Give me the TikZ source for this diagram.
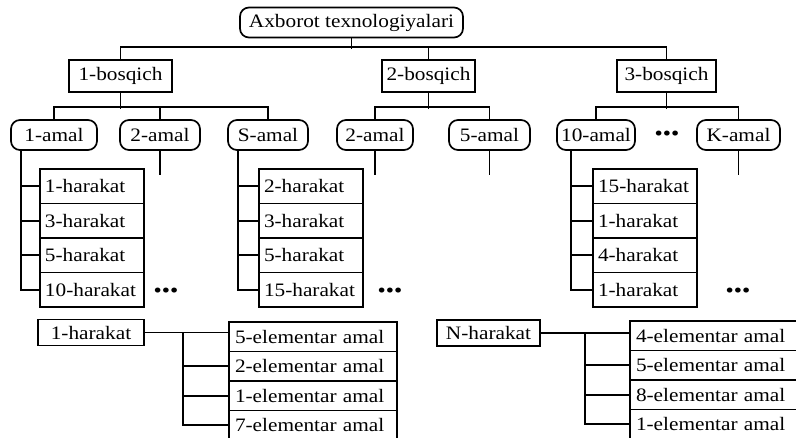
\documentclass[tikz,border=0pt]{standalone}
\usepackage{fontspec}
\setmainfont{Liberation Serif}[FakeStretch=1.12]
\usetikzlibrary{calc}
\begin{document}
\begin{tikzpicture}[x=1pt,y=-1pt, line width=1.7pt,
  every node/.style={font=\fontsize{19}{20}\selectfont},
  rbox/.style={draw, rounded corners=9pt, inner sep=0pt, minimum height=30pt},
  sbox/.style={draw, inner sep=0pt, minimum height=32pt},
  hbox/.style={draw, inner ysep=0pt, inner xsep=5pt, text width=94pt, align=left, minimum height=34.5pt},
  lbox/.style={draw, inner ysep=0pt, inner xsep=0pt, minimum height=26pt},
  ebox/.style={draw, inner ysep=0pt, inner xsep=6pt, text width=156pt, align=left, minimum height=29.5pt},
  dotsn/.style={inner sep=0pt, font=\fontsize{21}{21}\selectfont}]
\useasboundingbox (0,0) rectangle (796,437);
\clip (0,0) rectangle (796,437);

% root and stages
\node[rbox, minimum width=223pt] (root) at (351.5,22.5) {Axborot texnologiyalari};
\node[sbox, minimum width=103pt] (b1) at (120.5,76) {1-bosqich};
\node[sbox, minimum width=93pt] (b2) at (428.5,76) {2-bosqich};
\node[sbox, minimum width=99pt] (b3) at (666.5,76) {3-bosqich};

% amal nodes
\node[rbox, minimum width=86pt] (a11) at (54,135) {1-amal};
\node[rbox, minimum width=80pt] (a12) at (160,135) {2-amal};
\node[rbox, minimum width=80pt] (a1S) at (268,135) {S-amal};
\node[rbox, minimum width=76pt] (a22) at (375,135) {2-amal};
\node[rbox, minimum width=81pt] (a25) at (489.5,135) {5-amal};
\node[rbox, minimum width=78pt] (a310) at (596,135) {10-amal};
\node[rbox, minimum width=83pt] (a3K) at (738.5,135) {K-amal};
\node[dotsn] (d0) at (667,136) {•••};

% harakat columns
\node[hbox] (h11) at (92,186.25) {1-harakat};
\node[hbox] (h12) at (92,220.75) {3-harakat};
\node[hbox] (h13) at (92,255.25) {5-harakat};
\node[hbox] (h14) at (92,289.75) {10-harakat};
\node[dotsn] (d1) at (166,293) {•••};

\node[hbox] (h21) at (311,186.25) {2-harakat};
\node[hbox] (h22) at (311,220.75) {3-harakat};
\node[hbox] (h23) at (311,255.25) {5-harakat};
\node[hbox] (h24) at (311,289.75) {15-harakat};
\node[dotsn] (d2) at (390,293) {•••};

\node[hbox] (h31) at (645,186.25) {15-harakat};
\node[hbox] (h32) at (645,220.75) {1-harakat};
\node[hbox] (h33) at (645,255.25) {4-harakat};
\node[hbox] (h34) at (645,289.75) {1-harakat};
\node[dotsn] (d3) at (738,293) {•••};

% bottom section
\node[lbox, minimum width=106pt] (hA) at (91,332.5) {1-harakat};
\node[ebox] (e11) at (313,336.75) {5-elementar amal};
\node[ebox] (e12) at (313,366.25) {2-elementar amal};
\node[ebox] (e13) at (313,395.75) {1-elementar amal};
\node[ebox] (e14) at (313,425.25) {7-elementar amal};

\node[lbox, minimum width=103pt] (hN) at (488.5,333) {N-harakat};
\node[ebox] (e21) at (714,335.75) {4-elementar amal};
\node[ebox] (e22) at (714,365.25) {5-elementar amal};
\node[ebox] (e23) at (714,394.75) {8-elementar amal};
\node[ebox] (e24) at (714,424.25) {1-elementar amal};

% connectors: top levels
\draw (root.south) -- ++(0,11);
\draw (b1.north) -- ++(0,-12) -| (b3.north);
\draw (b2.north) -- ++(0,-12);

\draw (b1.south) -- ++(0,16);
\draw (a11.north) -- ++(0,-12) -| (a1S.north);
\draw (a12.north) -- ++(0,-12);

\draw (b2.south) -- ++(0,16);
\draw (a22.north) -- ++(0,-12) -| (a25.north);

\draw (b3.south) -- ++(0,16);
\draw (a310.north) -- ++(0,-12) -| (a3K.north);

% short stems
\draw (a12.south) -- ++(0,24);
\draw (a22.south) -- ++(0,24);
\draw (a25.south) -- ++(0,24);
\draw (a3K.south) -- ++(0,24);

% branch lines to harakat lists
\coordinate (v1) at ([xshift=11pt]a11.south west);
\draw (v1) |- (h14.west);
\foreach \n in {h11,h12,h13} \draw (\n.west -| v1) -- (\n.west);

\coordinate (v2) at ([xshift=11pt]a1S.south west);
\draw (v2) |- (h24.west);
\foreach \n in {h21,h22,h23} \draw (\n.west -| v2) -- (\n.west);

\coordinate (v3) at ([xshift=15pt]a310.south west);
\draw (v3) |- (h34.west);
\foreach \n in {h31,h32,h33} \draw (\n.west -| v3) -- (\n.west);

% bottom connectors
\coordinate (w1) at ([xshift=38pt]hA.east);
\draw (hA.east) -- (hA.east -| e11.west);
\draw (w1) |- (e14.west);
\foreach \n in {e12,e13} \draw (\n.west -| w1) -- (\n.west);

\coordinate (w2) at ([xshift=44pt]hN.east);
\draw (hN.east) -- (hN.east -| e21.west);
\draw (w2) |- (e24.west);
\foreach \n in {e22,e23} \draw (\n.west -| w2) -- (\n.west);
\end{tikzpicture}
\end{document}
